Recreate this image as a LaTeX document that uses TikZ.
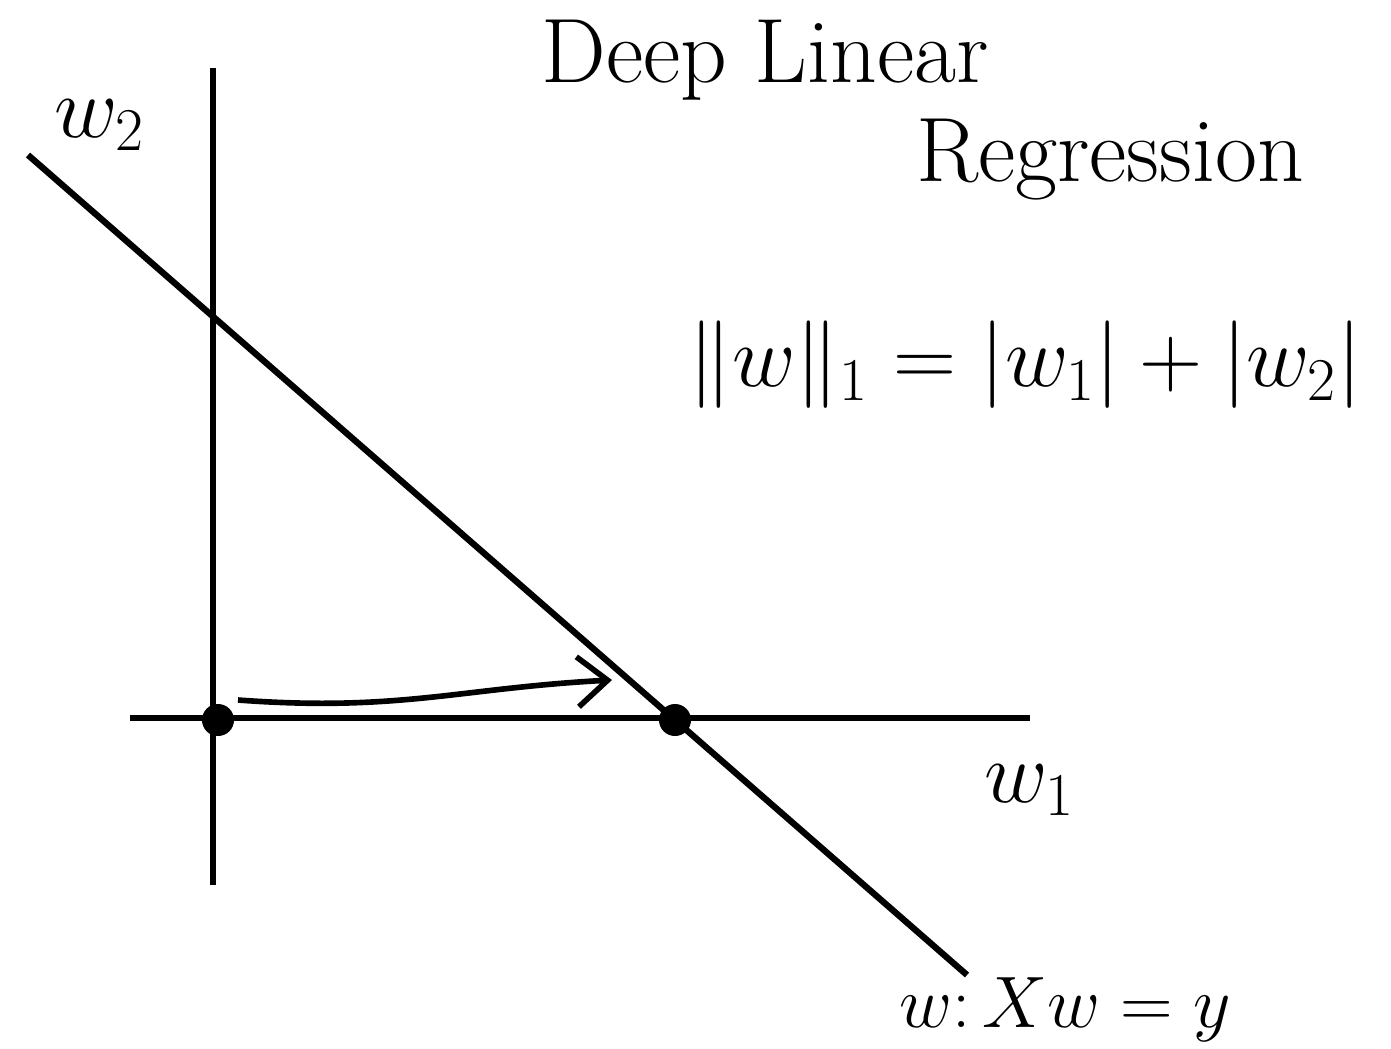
\documentclass[tikz,border=0pt]{standalone}
\usetikzlibrary{arrows.meta,positioning}

\begin{document}
\begin{tikzpicture}[
  x=0.01cm, y=-0.01cm,
  >={Straight Barb[length=3mm,width=5mm]},
  axis/.style={line width=1.8pt},
  hand/.style={font=\fontsize{26}{30}\selectfont},
  dot/.style={circle, fill, inner sep=0pt, minimum size=3.2mm},
  arrow/.style={->, line width=1.6pt}
]
\useasboundingbox (0,0) rectangle (1391,1048);

% axes and solution line
\coordinate (w2top) at (213,68);
\coordinate (w2bot) at (213,885);
\coordinate (w1left) at (130,718);
\coordinate (w1right) at (1030,718);
\coordinate (lineA) at (28,155);
\coordinate (lineB) at (967,975);
\draw[axis] (w2top) -- (w2bot);
\draw[axis] (w1left) -- (w1right);
\draw[axis] (lineA) -- (lineB);

\node[dot] (origin) at (218,720) {};
\node[dot] (sparse) at (675,720) {};

\coordinate (start) at (238,700);
\coordinate (tip) at (612,680);
\draw[arrow] (start) .. controls (400,712) and (460,688) .. (tip);

% labels
\node[hand] (title1) at (765,60) {Deep Linear};
\node[hand] (title2) at (1110,160) {Regression};
\node[hand] (norm) at (1025,365) {$\|w\|_1 = |w_1| + |w_2|$};
\node[hand] (w2lab) at (100,125) {$w_2$};
\node[hand] (w1lab) at (1030,790) {$w_1$};
\node[hand, font=\fontsize{22}{26}\selectfont] (setlab) at (1065,1010) {$w\colon Xw = y$};
\end{tikzpicture}
\end{document}
